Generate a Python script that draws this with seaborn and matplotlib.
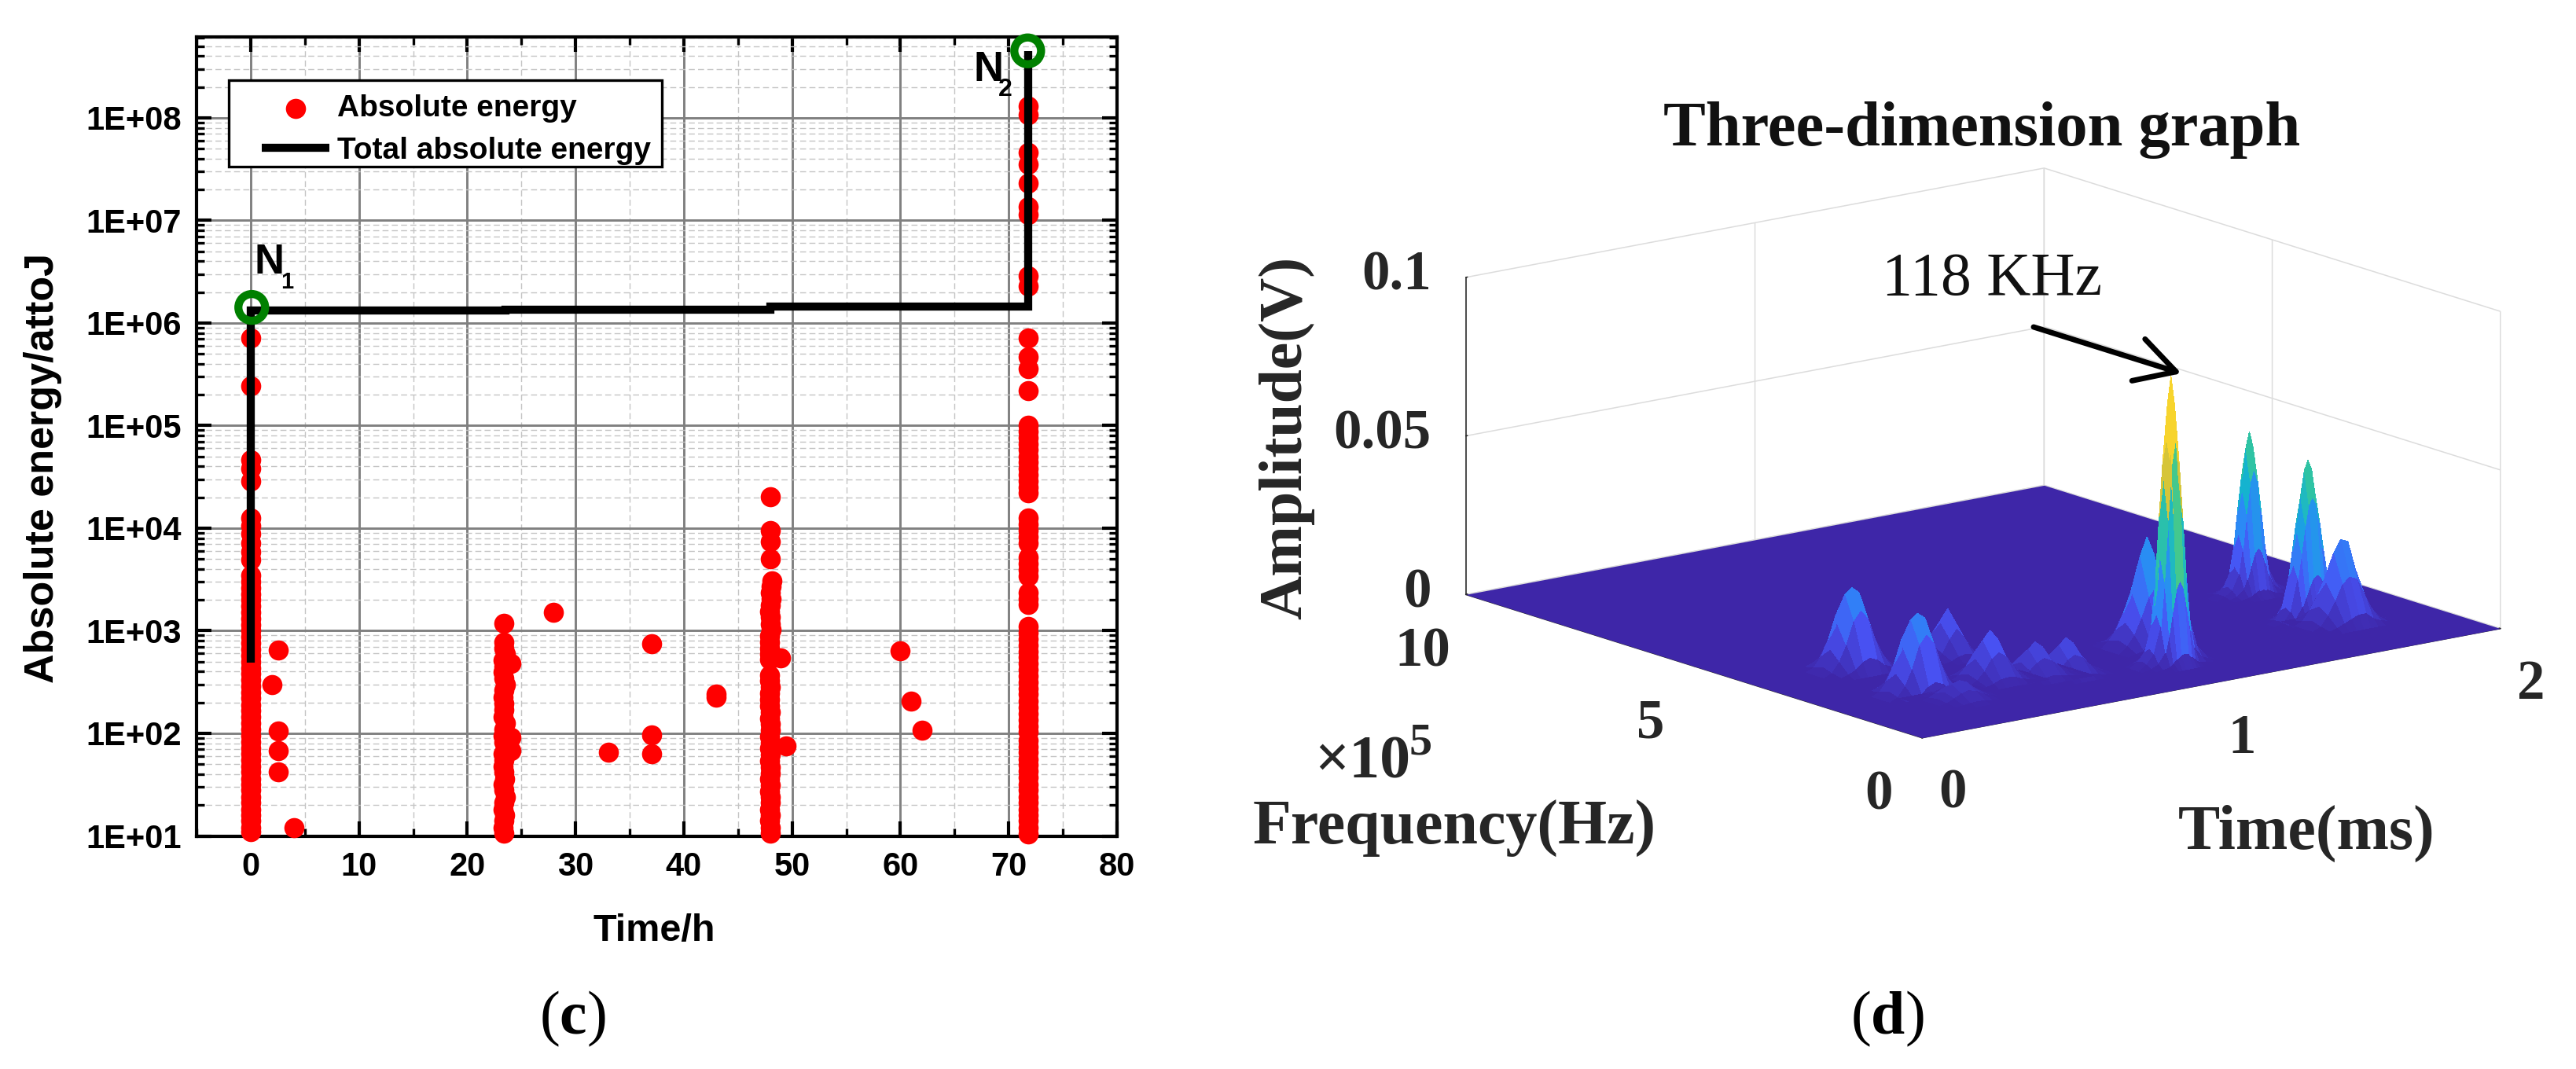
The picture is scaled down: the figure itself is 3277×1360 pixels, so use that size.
import numpy as np
import matplotlib
matplotlib.use("Agg")
import matplotlib.pyplot as plt
import seaborn as sns
from matplotlib.colors import LinearSegmentedColormap
from matplotlib.patches import FancyArrowPatch, Rectangle
from matplotlib.ticker import FixedLocator, LogLocator, NullFormatter

# ---- panel (c): absolute energy
col0_energy = [7.1e5, 2.45e5, 4.6e4, 3.8e4, 2.9e4, 1.26e4, 1.05e4, 8900, 7100, 5900, 4900, 3470, 3020, 2630, 2290,
               2000, 1740, 1510, 1320, 1150, 1000, 870, 760, 660, 575, 500, 435, 380, 330, 290, 250, 220, 190, 166,
               145, 126, 110, 95, 83, 72, 63, 55, 48, 42, 36, 32, 28, 24, 21, 18, 16, 14, 12, 11]
col23_energy = [1175, 776, 676, 590, 515, 450, 398, 345, 300, 262, 224, 195, 170, 145, 126, 110, 95, 83, 72, 63, 55,
                48, 42, 36, 32, 28, 24, 21, 18, 16, 14, 12, 10.7]
col23_time = [23.4, 23.35, 23.4, 23.5, 23.3, 23.4, 23.3, 23.35, 23.5, 23.4, 23.3, 23.35, 23.4, 23.3, 23.5, 23.4, 23.3,
              23.4, 23.5, 23.3, 23.4, 23.3, 23.4, 23.45, 23.3, 23.4, 23.5, 23.35, 23.3, 23.45, 23.4, 23.3, 23.4]
col48_energy = [20400, 9550, 7400, 5000, 3090, 2690, 2340, 2040, 1780, 1550, 1350, 1170, 1020, 890, 775, 675, 590, 525,
                372, 324, 282, 245, 214, 186, 162, 141, 123, 107, 93, 81, 71, 62, 54, 47, 41, 36, 31, 27, 24, 21, 18,
                16, 14, 12, 10.7]
col48_time = [48.0, 48.0, 48.0, 48.0, 48.1, 48.05, 48.0, 48.05, 48.0, 47.95, 48.0, 48.0, 48.05, 47.95, 47.95, 47.9,
              47.95, 47.95, 47.9, 47.95, 48.0, 47.95, 47.9, 47.95, 48.0, 47.9, 48.0, 48.0, 47.95, 48.0, 47.9, 48.0,
              47.9, 48.0, 48.0, 47.95, 48.0, 47.9, 48.0, 48.0, 47.95, 48.0, 47.9, 48.0, 48.0]
col72_energy = [1.3e8, 1.07e8, 4.6e7, 3.5e7, 2.3e7, 1.35e7, 1.15e7, 2.9e6, 2.3e6, 7.2e5, 4.7e5, 3.6e5, 2.2e5,
                1e5, 8.7e4, 7.6e4, 6.6e4, 5.8e4, 5e4, 4.4e4, 3.8e4, 3.3e4, 2.9e4, 2.5e4, 2.2e4,
                1.26e4, 1.1e4, 9500, 8300, 7200, 5200, 4500, 3900, 3400, 2340, 2050, 1820,
                1100, 960, 835, 725, 630, 550, 480, 420, 365, 315, 275, 240, 205, 180, 155, 135, 118, 103,
                85, 74, 65, 56, 49, 43, 37, 32, 28, 24, 21, 18, 16, 14, 12, 10.5]
other_time = [2.57, 1.96, 2.57, 2.57, 2.57, 3.97, 24.05, 24.0, 24.0, 27.96, 33.0, 37.0, 37.0, 37.0, 43.0, 43.0,
              48.95, 49.45, 60.0, 61.0, 62.0]
other_energy = [650, 300, 105, 68, 42, 12, 480, 91, 68, 1510, 65, 750, 97, 63, 240, 225, 540, 76, 640, 205, 108]

total_time = [0.0, 0.0, 23.5, 23.5, 48.0, 48.0, 71.8, 71.8]
total_energy = [490, 1.33e6, 1.33e6, 1.36e6, 1.36e6, 1.45e6, 1.45e6, 4.5e8]
circle_time = [0.1, 71.75]
circle_energy = [1.42e6, 4.5e8]

x_ticks = [0, 10, 20, 30, 40, 50, 60, 70, 80]
x_minor = [-5, 5, 15, 25, 35, 45, 55, 65, 75]
y_ticks = [1e1, 1e2, 1e3, 1e4, 1e5, 1e6, 1e7, 1e8]
y_labels = ["1E+01", "1E+02", "1E+03", "1E+04", "1E+05", "1E+06", "1E+07", "1E+08"]

# ---- panel (d): spectrogram amplitude (V), one block per hump seen in the picture
main_time = [.95, .975, 1.0, 1.0125, 1.025, 1.0375, 1.05, 1.0625, 1.075, 1.0875, 1.1, 1.125, 1.15]
main_freq = [.9, 1.0, 1.1, 1.2, 1.3, 1.4, 1.5]
main_amp = [[.0001, .0003, .0008, .0017, .003, .0041, .0045, .0041, .003, .0017, .0008, .0003, .0001],
            [.0006, .0017, .0049, .0104, .0177, .0244, .0272, .0244, .0177, .0104, .0049, .0017, .0006],
            [.0016, .0043, .0128, .0269, .046, .0635, .0707, .0635, .046, .0269, .0128, .0043, .0016],
            [.002, .0055, .0164, .0345, .059, .0814, .0906, .0814, .059, .0345, .0164, .0055, .002],
            [.0016, .0043, .0128, .0269, .046, .0635, .0707, .0635, .046, .0269, .0128, .0043, .0016],
            [.0006, .0017, .0049, .0104, .0177, .0244, .0272, .0244, .0177, .0104, .0049, .0017, .0006],
            [.0001, .0003, .0008, .0017, .003, .0041, .0045, .0041, .003, .0017, .0008, .0003, .0001]]
back_time = [1.6, 1.625, 1.65, 1.6625, 1.675, 1.6875, 1.7, 1.7125, 1.725, 1.7375, 1.75, 1.775, 1.8]
back_freq = [3.3, 3.4, 3.5, 3.6, 3.7, 3.8, 3.9]
back_amp = [[.0001, .0002, .0005, .001, .0017, .0023, .0026, .0023, .0017, .001, .0005, .0002, .0001],
            [.0003, .0009, .0028, .0058, .01, .0138, .0153, .0138, .01, .0058, .0028, .0009, .0003],
            [.0009, .0024, .0072, .0151, .0259, .0358, .0398, .0358, .0259, .0151, .0072, .0024, .0009],
            [.0011, .0031, .0092, .0194, .0332, .0459, .051, .0459, .0332, .0194, .0092, .0031, .0011],
            [.0009, .0024, .0072, .0151, .0259, .0358, .0398, .0358, .0259, .0151, .0072, .0024, .0009],
            [.0003, .0009, .0028, .0058, .01, .0138, .0153, .0138, .01, .0058, .0028, .0009, .0003],
            [.0001, .0002, .0005, .001, .0017, .0023, .0026, .0023, .0017, .001, .0005, .0002, .0001]]
right_time = [1.55, 1.575, 1.6, 1.6125, 1.625, 1.6375, 1.65, 1.6625, 1.675, 1.6875, 1.7, 1.725, 1.75]
right_freq = [1.7, 1.8, 1.9, 2.0, 2.1, 2.2, 2.3]
right_amp = [[.0001, .0003, .0009, .0014, .0019, .0024, .0025, .0024, .0019, .0014, .0009, .0003, .0001],
             [.0003, .0015, .0054, .0084, .0116, .0141, .015, .0141, .0116, .0084, .0054, .0015, .0003],
             [.0007, .0039, .014, .0218, .0303, .0367, .039, .0367, .0303, .0218, .014, .0039, .0007],
             [.0009, .005, .018, .028, .0388, .047, .05, .047, .0388, .028, .018, .005, .0009],
             [.0007, .0039, .014, .0218, .0303, .0367, .039, .0367, .0303, .0218, .014, .0039, .0007],
             [.0003, .0015, .0054, .0084, .0116, .0141, .015, .0141, .0116, .0084, .0054, .0015, .0003],
             [.0001, .0003, .0009, .0014, .0019, .0024, .0025, .0024, .0019, .0014, .0009, .0003, .0001]]
# the smaller humps: rows are centre-0.4 ... centre+0.4 (x1e5 Hz), columns centre-0.1 ... centre+0.1 (ms)
shoulder_peak = [[.0005, .001, .003, .004, .005, .004, .003, .001, .0005],
                 [.002, .005, .010, .016, .019, .016, .010, .005, .002],
                 [.003, .008, .017, .028, .034, .028, .017, .008, .003],
                 [.002, .005, .010, .016, .019, .016, .010, .005, .002],
                 [.0005, .001, .003, .004, .005, .004, .003, .001, .0005]]
right_low_peak = [[.0003, .001, .002, .003, .004, .004, .002, .001, .0003],
                  [.001, .004, .008, .013, .015, .014, .009, .004, .001],
                  [.002, .006, .013, .022, .026, .025, .016, .007, .002],
                  [.001, .004, .008, .013, .015, .014, .009, .004, .001],
                  [.0003, .001, .002, .003, .004, .004, .002, .001, .0003]]
left_peak_a = [[.0003, .001, .002, .004, .005, .004, .002, .001, .0003],
               [.001, .004, .009, .016, .019, .016, .009, .004, .001],
               [.002, .007, .015, .0232, .025, .0232, .015, .007, .002],
               [.001, .004, .009, .016, .019, .016, .009, .004, .001],
               [.0003, .001, .002, .004, .005, .004, .002, .001, .0003]]
left_peak_b = [[.0003, .001, .002, .004, .005, .004, .002, .001, .0003],
               [.001, .004, .009, .016, .019, .016, .009, .004, .001],
               [.002, .007, .015, .0235, .0255, .0235, .015, .007, .002],
               [.001, .004, .009, .016, .019, .016, .009, .004, .001],
               [.0003, .001, .002, .004, .005, .004, .002, .001, .0003]]
low_peak_c = [[0, .0001, .0005, .0015, .002, .0015, .0005, .0001, 0],
              [.0001, .0004, .002, .006, .009, .006, .002, .0004, .0001],
              [.0001, .0006, .0036, .0102, .0146, .0102, .0036, .0006, .0001],
              [.0001, .0004, .002, .006, .009, .006, .002, .0004, .0001],
              [0, .0001, .0005, .0015, .002, .0015, .0005, .0001, 0]]
low_peak_d = [[.0001, .0004, .001, .002, .0023, .002, .001, .0004, .0001],
              [.0004, .0016, .004, .0075, .0092, .0075, .004, .0016, .0004],
              [.0007, .0026, .007, .0125, .0153, .0125, .007, .0026, .0007],
              [.0004, .0016, .004, .0075, .0092, .0075, .004, .0016, .0004],
              [.0001, .0004, .001, .002, .0023, .002, .001, .0004, .0001]]
low_peak_e = [[.0001, .0003, .0007, .0013, .0016, .0013, .0007, .0003, .0001],
              [.0003, .001, .003, .005, .0062, .005, .003, .001, .0003],
              [.0005, .0018, .0048, .0085, .0104, .0085, .0048, .0018, .0005],
              [.0003, .001, .003, .005, .0062, .005, .003, .001, .0003],
              [.0001, .0003, .0007, .0013, .0016, .0013, .0007, .0003, .0001]]
low_peak_f = [[.0001, .0003, .0008, .0014, .0017, .0014, .0008, .0003, .0001],
              [.0003, .0011, .003, .0056, .0068, .0056, .003, .0011, .0003],
              [.0005, .0019, .0052, .0093, .0114, .0093, .0052, .0019, .0005],
              [.0003, .0011, .003, .0056, .0068, .0056, .003, .0011, .0003],
              [.0001, .0003, .0008, .0014, .0017, .0014, .0008, .0003, .0001]]
low_peak_g = [[0, .0001, .0004, .0007, .0009, .0007, .0004, .0001, 0],
              [.0001, .0006, .0016, .0028, .0034, .0028, .0016, .0006, .0001],
              [.0002, .001, .0026, .0047, .0057, .0047, .0026, .001, .0002],
              [.0001, .0006, .0016, .0028, .0034, .0028, .0016, .0006, .0001],
              [0, .0001, .0004, .0007, .0009, .0007, .0004, .0001, 0]]
block_time_offsets = [-.1, -.075, -.05, -.025, 0, .025, .05, .075, .1]
block_freq_offsets = [-.4, -.2, 0, .2, .4]
small_humps = {"shoulder": (shoulder_peak, 1.125, 2.2), "right_low": (right_low_peak, 1.7, 1.6),
               "a": (left_peak_a, 0.3, 2.0), "b": (left_peak_b, 0.325, 3.6), "c": (low_peak_c, 0.625, 3.4),
               "d": (low_peak_d, 0.55, 2.0), "e": (low_peak_e, 0.675, 1.8), "f": (low_peak_f, 0.75, 1.6),
               "g": (low_peak_g, 0.35, 1.4)}
parula_colors = ["#3E26A8", "#4852F4", "#2D87F7", "#11B1D6", "#37C897", "#ABC739", "#FEC338", "#F5D92A", "#F9FB15"]

W, H = 3277, 1360


def fig_x(px):
    return px / W


def fig_y(px):
    return 1 - px / H


sns.set_style("ticks")
plt.rcParams["font.family"] = ["Liberation Sans", "DejaVu Sans"]
plt.rcParams["mathtext.fontset"] = "custom"
plt.rcParams["mathtext.rm"] = "Liberation Serif"
plt.rcParams["mathtext.bf"] = "Liberation Serif:bold"

fig = plt.figure(figsize=(W / 100, H / 100), dpi=100, facecolor="white")

# ---- (c)
ax = fig.add_axes([fig_x(250), fig_y(1063.5), 1171 / W, 1016.5 / H])
red_time = [0.0] * len(col0_energy) + col23_time + col48_time + [71.8] * len(col72_energy) + other_time
red_energy = col0_energy + col23_energy + col48_energy + col72_energy + other_energy
sns.scatterplot(x=red_time, y=red_energy, color="#ff0000", s=340, linewidth=0, ax=ax, zorder=4, clip_on=False,
                label="Absolute energy")
sns.lineplot(x=total_time, y=total_energy, color="black", lw=7.4, sort=False, estimator=None, ax=ax, zorder=5,
             solid_capstyle="butt", solid_joinstyle="miter", label="Total absolute energy")
ax.scatter(circle_time, circle_energy, s=600, facecolors="none", edgecolors="#008000", linewidths=7.4, zorder=6,
           clip_on=False)

ax.set_yscale("log")
ax.set_xlim(-5, 80)
ax.set_ylim(10, 6.15e8)
ax.set_xticks(x_ticks)
ax.xaxis.set_minor_locator(FixedLocator(x_minor))
ax.set_yticks(y_ticks, labels=y_labels)
ax.yaxis.set_minor_locator(LogLocator(base=10, subs=[2, 3, 4, 5, 6, 7, 8, 9], numticks=30))
ax.yaxis.set_minor_formatter(NullFormatter())
ax.set_axisbelow(True)
ax.grid(which="major", color="#808080", lw=2.1)
ax.grid(which="minor", color="#c4c4c4", lw=1.0, ls=(0, (5.5, 3)))
ax.tick_params(which="major", direction="in", top=True, right=True, length=13.7, width=3, labelsize=30, pad=14,
               labelcolor="black", color="black")
ax.tick_params(which="minor", direction="in", top=True, right=True, length=7.2, width=2.4, color="black")
for label in ax.get_xticklabels() + ax.get_yticklabels():
    label.set_fontweight("bold")
for spine in ax.spines.values():
    spine.set_linewidth(3)
    spine.set_color("black")
    spine.set_zorder(3)
ax.set_xlabel("Time/h", fontsize=35, fontweight="bold", va="center", color="black")
ax.xaxis.set_label_coords(0.497, -0.119)
ax.set_ylabel("Absolute energy/attoJ", fontsize=37.5, fontweight="bold", va="center", color="black")
ax.yaxis.set_label_coords(-0.167, 0.46)

handles, labels = ax.get_legend_handles_labels()
ax.add_patch(Rectangle((fig_x(291), fig_y(212)), 551 / W, 110 / H, transform=fig.transFigure, facecolor="white",
                       edgecolor="black", lw=2.4, zorder=7))
leg = ax.legend(handles, labels, loc="upper left", bbox_to_anchor=(fig_x(333), fig_y(120)),
                bbox_transform=fig.transFigure, frameon=False, borderpad=0, borderaxespad=0, labelcolor="black",
                handlelength=2.2, handletextpad=0.28, labelspacing=0.45, prop={"family": "Liberation Sans",
                                                                                 "weight": "bold", "size": 28})
leg.set_zorder(8)

ax.text(fig_x(323), fig_y(348), "N", transform=fig.transFigure, fontsize=38, fontweight="bold", ha="left",
        va="baseline", zorder=9, color="black")
ax.text(fig_x(357), fig_y(367), "1", transform=fig.transFigure, fontsize=21, fontweight="bold", ha="left",
        va="baseline", zorder=9, color="black")
ax.text(fig_x(1238), fig_y(103), "N", transform=fig.transFigure, fontsize=38, fontweight="bold", ha="left",
        va="baseline", zorder=9, color="black")
ax.text(fig_x(1270), fig_y(122), "2", transform=fig.transFigure, fontsize=23, fontweight="bold", ha="left",
        va="baseline", zorder=9, color="black")

# ---- (d)
side = 1351
ax3 = fig.add_axes([fig_x(1829), fig_y(1270), side / W, side / H], projection="3d", proj_type="ortho",
                   computed_zorder=False)
ax3.patch.set_alpha(0)
ax3.view_init(elev=14.1, azim=-127.8)
ax3.set_box_aspect((931, 947, 416))
parula = LinearSegmentedColormap.from_list("parula_like", parula_colors)
surf_kw = dict(cmap=parula, vmin=0, vmax=0.0906, rstride=1, cstride=1, linewidth=0, antialiased=False, shade=False)


def draw_hump(times, freqs, amps, order):
    # drop the block edges down on to the floor so no hump floats
    times = np.array(times)
    freqs = np.array(freqs)
    t = np.r_[times[0] - 0.025, times, times[-1] + 0.025]
    f = np.r_[freqs[0] - 0.1, freqs, freqs[-1] + 0.1]
    tt, ff = np.meshgrid(t, f)
    ax3.plot_surface(tt, ff, np.pad(np.array(amps), 1), zorder=order, **surf_kw)


floor_t, floor_f = np.meshgrid([0, 2], [0, 10])
ax3.plot_surface(floor_t, floor_f, np.zeros((2, 2)), zorder=1, **surf_kw)


def draw_small(name, order):
    block, t_centre, f_centre = small_humps[name]
    draw_hump(np.add(block_time_offsets, t_centre), np.add(block_freq_offsets, f_centre), block, order)


# painted from the far corner to the near one
draw_hump(back_time, back_freq, back_amp, 2)
draw_hump(right_time, right_freq, right_amp, 3)
draw_small("right_low", 4)
draw_small("shoulder", 5)
draw_small("c", 6)
draw_hump(main_time, main_freq, main_amp, 7)
draw_small("b", 8)
draw_small("f", 9)
draw_small("e", 10)
draw_small("d", 11)
draw_small("a", 12)
draw_small("g", 13)

ax3.set_xlim(0, 2, view_margin=0)
ax3.set_ylim(0, 10, view_margin=0)
ax3.set_zlim(0, 0.1, view_margin=0)
ax3.set_xticks([0, 1, 2], labels=["0", "1", "2"])
ax3.set_yticks([0, 5, 10], labels=["0", "5", "10"])
ax3.set_zticks([0, 0.05, 0.1], labels=["0", "0.05", "0.1"])
serif_tick = {"family": "Liberation Serif", "weight": "bold", "size": 51}
for axis, pad in ((ax3.xaxis, 26), (ax3.yaxis, 30), (ax3.zaxis, 9)):
    axis.set_pane_color((1, 1, 1, 0))
    axis.pane.set_edgecolor("#dcdcdc")
    axis.pane.set_linewidth(1.1)
    axis.line.set_color("#303030")
    axis.line.set_linewidth(1.2)
    axis._axinfo["grid"].update(color="#dcdcdc", linewidth=1.1)
    axis._axinfo["tick"].update(inward_factor=0.0, outward_factor=0.035, linewidth={True: 1.1, False: 0.5})
    axis.set_tick_params(pad=pad, colors="#262626")
    for label in axis.get_ticklabels():
        label.set_fontproperties(serif_tick)
for label in ax3.zaxis.get_ticklabels():
    label.set_ha("right")
    label.set_va("center")

serif = ["Liberation Serif", "DejaVu Serif"]
dark = "#262626"
fig.text(fig_x(2521), fig_y(165), "Three-dimension graph", family=serif, weight="bold", fontsize=58, color="#111111",
         ha="center", va="center")
fig.text(fig_x(2534), fig_y(356), "118 KHz", family=serif, fontsize=56, color="#111111", ha="center", va="center")
fig.text(fig_x(1637), fig_y(557), "Amplitude(V)", family=serif, weight="bold", fontsize=56, color=dark, rotation=90,
         ha="center", va="center")
fig.text(fig_x(1850), fig_y(1054), "Frequency(Hz)", family=serif, weight="bold", fontsize=57.5, color=dark,
         ha="center", va="center")
fig.text(fig_x(2934), fig_y(1060), "Time(ms)", family=serif, weight="bold", fontsize=57.5, color=dark, ha="center",
         va="center")
fig.text(fig_x(1733), fig_y(971), "×10", family=serif, weight="bold", fontsize=56, color=dark, ha="center",
         va="center")
fig.text(fig_x(1807), fig_y(945), "5", family=serif, weight="bold", fontsize=42, color=dark, ha="center", va="center")
fig.add_artist(FancyArrowPatch((fig_x(2587), fig_y(416)), (fig_x(2775), fig_y(475)), transform=fig.transFigure,
                               arrowstyle="->,head_length=0.9,head_width=0.5", mutation_scale=40, lw=5, color="black",
                               shrinkA=0, shrinkB=0, zorder=10))

fig.text(fig_x(728), fig_y(1296), r"$\mathrm{(}\mathbf{c}\mathrm{)}$", fontsize=56, color="black", ha="center",
         va="center")
fig.text(fig_x(2401), fig_y(1296), r"$\mathrm{(}\mathbf{d}\mathrm{)}$", fontsize=56, color="black", ha="center",
         va="center")

fig.savefig("out.png", dpi=100, facecolor="white")
